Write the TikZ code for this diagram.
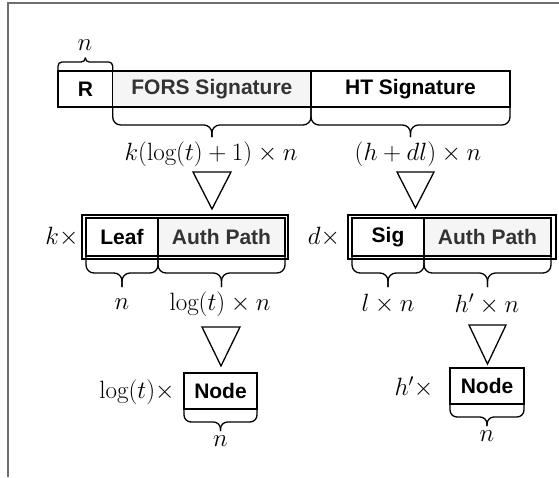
\RequirePackage{fix-cm}
\documentclass[tikz,border=0pt]{standalone}
\usepackage{fontspec}
\setsansfont{Liberation Sans}
\definecolor{cellgray}{HTML}{F5F5F5}
\definecolor{textgray}{HTML}{333333}
\definecolor{framegray}{HTML}{6E6E6E}
\newcommand{\bracedn}[6]{% x1 x2 xm y0 h d
  \draw[bracestyle] (#1,#4) -- (#1,#4+#5) -- (#3,#4+#5) -- (#3,#4+#6);
  \draw[bracestyle] (#2,#4) -- (#2,#4+#5) -- (#3,#4+#5) -- (#3,#4+#6);}
\begin{document}
\begin{tikzpicture}[x=1pt,y=-1pt,
  cell/.style={draw=black, line width=1.3pt, fill=white, inner sep=0pt,
    minimum height=36pt, font=\fontsize{21}{24}\selectfont\sffamily\bfseries},
  graycell/.style={cell, fill=cellgray, text=textgray},
  outerbox/.style={draw=black, line width=1.3pt, fill=white},
  bracestyle/.style={draw=black, line width=1.3pt, rounded corners=8pt},
  tri/.style={draw=black, line width=1.3pt, line join=miter},
  lab/.style={inner sep=0pt, font=\fontsize{25}{29}\selectfont},
  framestyle/.style={draw=framegray, line width=1.7pt}]
\useasboundingbox (0,0) rectangle (559,477);
% frame
\draw[framestyle] (559,3.3) -- (8.3,3.3) -- (8.3,477);

% top row
\node[cell, minimum width=54.7pt] (R) at (85.35,89) {R};
\node[graycell, minimum width=198.3pt] (FORS) at (211.85,89) {FORS Signature};
\node[cell, minimum width=199pt] (HT) at (410.5,89) {HT Signature};
% brace above R
\draw[bracestyle, rounded corners=4pt] (58,71) -- (58,62) -- (85.35,62) -- (85.35,57.5);
\draw[bracestyle, rounded corners=4pt] (112.7,71) -- (112.7,62) -- (85.35,62) -- (85.35,57.5);
\node[lab] (nR) at (85,45) {$n$};
% braces below
\bracedn{112.7}{311}{211.85}{107}{18}{30}
\bracedn{311}{510}{410.5}{107}{18}{30}
\node[lab] (lF) at (211,154) {$k(\log(t)+1)\times n$};
\node[lab] (lH) at (418,154) {$(h+dl)\times n$};

% triangles
\draw[tri] (193,172) -- (231,172) -- (212,209) -- cycle;
\draw[tri] (397,172) -- (434,172) -- (415.5,208) -- cycle;

% middle left
\draw[outerbox] (82,215) rectangle (288,259);
\node[cell, minimum width=72pt, minimum height=38pt] (Leaf) at (122,237) {Leaf};
\node[graycell, minimum width=127pt, minimum height=38pt] (AuthL) at (221.5,237) {Auth Path};
\node[lab] (kx) at (62,237) {$k\times$};
\bracedn{86}{158}{122}{256}{17}{31}
\bracedn{158}{285}{221.5}{256}{17}{31}
\node[lab] (nLeaf) at (122,304) {$n$};
\node[lab] (lAuthL) at (220,304) {$\log(t)\times n$};

% middle right
\draw[outerbox] (348,215) rectangle (556,259);
\node[cell, minimum width=72pt, minimum height=38pt] (Sig) at (388,237) {Sig};
\node[graycell, minimum width=127pt, minimum height=38pt] (AuthR) at (487.5,237) {Auth Path};
\node[lab] (dx) at (324,237) {$d\times$};
\bracedn{352}{424}{388}{256}{17}{31}
\bracedn{424}{551}{487.5}{256}{17}{31}
\node[lab] (lSig) at (388,304) {$l\times n$};
\node[lab] (lAuthR) at (487,304) {$h'\times n$};

% lower triangles
\draw[tri] (202,327) -- (240,327) -- (221,366) -- cycle;
\draw[tri] (469,325) -- (506,325) -- (487.5,364) -- cycle;

% bottom nodes
\node[cell, minimum width=73pt] (NodeL) at (220.5,391) {Node};
\node[lab] (lx) at (137,392) {$\log(t)\times$};
\draw[bracestyle, rounded corners=7pt] (184,409) -- (184,422) -- (220.5,422) -- (220.5,431);
\draw[bracestyle, rounded corners=7pt] (257,409) -- (257,422) -- (220.5,422) -- (220.5,431);
\node[lab] (nNL) at (220.5,441) {$n$};

\node[cell, minimum width=74pt] (NodeR) at (487,386) {Node};
\node[lab] (hx) at (414,387) {$h'\times$};
\draw[bracestyle, rounded corners=7pt] (450,404) -- (450,417) -- (487,417) -- (487,426);
\draw[bracestyle, rounded corners=7pt] (524,404) -- (524,417) -- (487,417) -- (487,426);
\node[lab] (nNR) at (487,436) {$n$};
\end{tikzpicture}
\end{document}
